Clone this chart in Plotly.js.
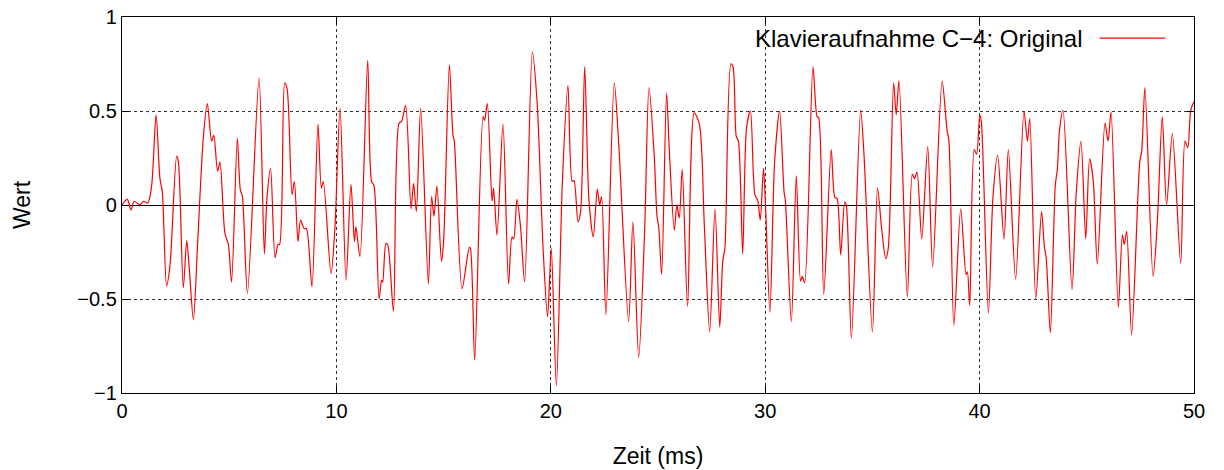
<!DOCTYPE html>
<html>
<head>
<meta charset="utf-8">
<script src="https://cdn.plot.ly/plotly-3.0.1.min.js"></script>
<style>html,body{margin:0;padding:0;background:#fff;}#chart{width:1224px;height:470px;}</style>
</head>
<body>
<div id="chart"></div>
<script>
// Zeit (ms)
const zeit = [0,0.25,0.42,0.57,0.84,1.0,1.2,1.38,1.59,1.77,1.88,2.08,2.24,2.55,2.63,2.86,3.02,3.14,3.33,3.53,3.79,3.98,4.18,4.28,4.46,4.57,4.8,4.96,5.11,5.38,5.52,5.61,5.85,6.39,6.64,6.76,6.93,7.14,7.28,7.35,7.59,7.7,7.93,8.04,8.21,8.33,8.49,8.6,8.86,9.14,9.3,9.39,9.75,9.93,10.17,10.45,10.68,10.84,10.91,11.1,11.46,11.64,11.75,11.99,12.11,12.16,12.31,12.39,12.66,12.92,13.04,13.23,13.48,13.6,13.73,13.93,14.29,14.44,14.55,14.69,14.9,15.0,15.27,15.44,15.5,15.86,16.2,16.25,16.45,16.84,16.91,17.04,17.26,17.33,17.49,17.77,18.03,18.19,18.27,18.42,18.58,18.78,19.14,19.36,19.64,19.85,20.02,20.26,20.54,20.8,21.0,21.08,21.27,21.39,21.58,21.78,21.98,22.17,22.28,22.37,22.57,22.96,23.18,23.63,23.83,24.1,24.38,24.58,24.83,24.95,25.04,25.17,25.4,25.53,25.76,25.88,25.99,26.13,26.38,26.69,26.93,27.16,27.41,27.66,27.88,28.02,28.12,28.4,28.5,28.65,28.75,28.95,29.13,29.31,29.52,29.65,29.77,29.92,30.02,30.22,30.44,30.67,30.88,30.94,31.22,31.45,31.65,31.73,31.84,32.23,32.42,32.49,32.73,33.08,33.25,33.35,33.52,33.71,33.78,34.02,34.45,34.61,35.0,35.24,35.43,35.62,35.74,35.99,36.11,36.24,36.63,36.86,36.96,37.08,37.3,37.58,37.81,38.25,38.48,38.57,38.8,39.12,39.37,39.43,39.54,39.75,39.86,40.01,40.08,40.41,40.62,40.84,41.14,41.34,41.68,42.07,42.23,42.34,42.62,42.89,43.02,43.11,43.3,43.53,43.63,43.72,43.89,44.31,44.51,44.73,44.95,45.13,45.3,45.49,45.85,45.99,46.13,46.47,46.66,46.75,46.86,47.09,47.47,47.56,47.71,48.09,48.29,48.52,48.72,48.99,49.38,49.58,49.71,49.85,50.0];
// Wert
const wert = [0,0.03,-0.027,0.02,0,0.02,0.01,0.1,0.48,0.14,0.07,-0.43,-0.32,0.26,0.23,-0.44,-0.19,-0.34,-0.61,-0.2,0.355,0.54,0.34,0.37,0.18,0.23,-0.15,-0.21,-0.41,0.355,0.08,0.05,-0.47,0.675,-0.26,0.035,0.195,-0.28,-0.21,-0.21,0.65,0.62,0.055,0.125,-0.195,-0.08,-0.125,-0.125,-0.435,0.43,0.09,0.125,-0.365,-0.125,0.515,-0.4,0.11,-0.195,-0.115,-0.275,0.77,0.125,0.105,-0.5,-0.4,-0.41,-0.205,-0.21,-0.565,0.435,0.445,0.53,-0.02,0.115,-0.035,0.515,-0.42,0.045,-0.06,0.1,-0.3,-0.195,0.745,0.37,0.34,-0.445,-0.225,-0.23,-0.825,0.47,0.45,0.54,0.02,0.09,-0.16,0.43,-0.42,-0.17,-0.18,0.03,-0.105,-0.41,0.815,0.55,-0.23,-0.595,-0.23,-0.96,0.125,0.635,0.125,0.13,-0.09,-0.035,0.735,0.025,-0.17,0.085,0.0,0.045,-0.585,0.65,0.3,-0.62,-0.09,-0.81,-0.125,0.625,0.25,-0.055,-0.125,-0.37,0.595,0.285,-0.135,0.0,-0.07,0.19,-0.54,0.49,0.43,-0.105,-0.675,-0.02,-0.65,-0.3,-0.23,0.75,0.735,0.365,0.34,-0.26,0.41,0.5,0.055,0.025,-0.08,0.195,-0.02,-0.57,0.23,0.5,0.07,0.025,-0.62,0.155,-0.405,-0.38,-0.415,0.735,0.47,0.465,-0.475,0.295,0.04,0.035,-0.265,0.015,0.0,-0.71,0.505,0.265,-0.675,0.09,-0.125,-0.285,-0.23,0.65,0.48,0.66,-0.49,0.165,0.14,0.175,-0.18,0.31,-0.33,0.66,0.4,0.34,-0.64,-0.02,-0.37,-0.355,-0.535,0.295,0.27,0.48,0.445,-0.575,0.035,0.265,-0.18,0.295,-0.395,0.5,0.34,0.46,-0.5,-0.035,-0.22,-0.285,-0.68,0.105,0.195,0.39,0.505,-0.45,0.07,0.34,-0.18,0.245,0.13,-0.315,0.435,0.34,0.495,-0.545,-0.16,-0.21,-0.14,-0.69,0.23,0.285,0.625,-0.38,-0.09,0.47,0.0,0.38,-0.31,0.34,0.305,0.505,0.55];

const seriesName = "Klavieraufnahme C\u22124: Original";
const xTitle = "Zeit (ms)";
const yTitle = "Wert";

const FONT = "Liberation Sans, Arial, Helvetica, sans-serif";

const trace = {
  x: zeit, y: wert, type: 'scatter', mode: 'lines', name: seriesName,
  line: {color: '#ff0000', width: 1.2, shape: 'spline', smoothing: 0.8},
  showlegend: false, hoverinfo: 'skip'
};

const axisCommon = {
  showline: true, linecolor: '#000', linewidth: 1.2, mirror: 'allticks',
  ticks: 'inside', ticklen: 7, tickcolor: '#000', tickwidth: 1,
  showgrid: true, gridcolor: '#000', gridwidth: 0.8, griddash: 'dot',
  tickfont: {family: FONT, size: 20, color: '#000'}
};

const layout = {
  width: 1224, height: 470,
  margin: {l: 122, r: 30, t: 17, b: 77},
  paper_bgcolor: '#fff', plot_bgcolor: '#fff',
  font: {family: FONT, size: 20, color: '#000'},
  xaxis: Object.assign({}, axisCommon, {
    range: [0, 50], dtick: 10, tick0: 0, zeroline: false,
    title: {text: xTitle, font: {family: FONT, size: 23}, standoff: 26}
  }),
  yaxis: Object.assign({}, axisCommon, {
    range: [-1, 1], dtick: 0.5, tick0: 0,
    zeroline: true, zerolinecolor: '#000', zerolinewidth: 1,
    title: {text: yTitle, font: {family: FONT, size: 23}, standoff: 40}
  }),
  annotations: [{
    xref: 'paper', yref: 'paper', x: 0.898, y: 0.944,
    xanchor: 'right', yanchor: 'middle', showarrow: false,
    text: seriesName, font: {family: FONT, size: 24, color: '#000'}
  }],
  shapes: [{
    type: 'line', xref: 'paper', yref: 'paper',
    x0: 0.912, x1: 0.973, y0: 0.944, y1: 0.944,
    line: {color: '#ff0000', width: 1.2}
  }]
};

Plotly.newPlot('chart', [trace], layout, {staticPlot: true, displayModeBar: false});
</script>
</body>
</html>
